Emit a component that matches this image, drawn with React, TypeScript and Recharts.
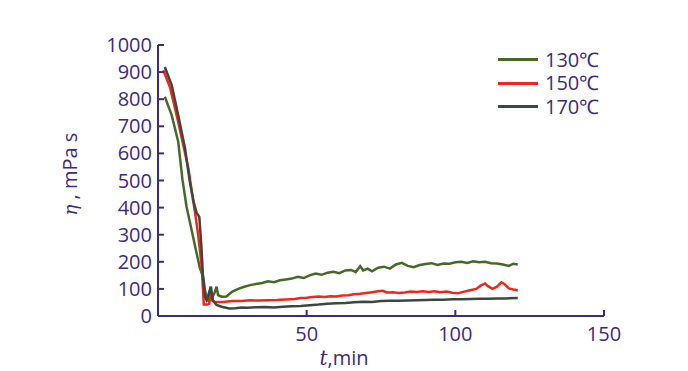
import React from 'react';
import { LineChart, Line, XAxis, YAxis } from 'recharts';

const xTicks = [50, 100, 150];
const yTicks = [0, 100, 200, 300, 400, 500, 600, 700, 800, 900, 1000];

const seriesNames = ['130℃', '150℃', '170℃'];
const seriesColors = ['#466a25', '#f0281c', '#3b4840'];

const t130 = [2.3, 4.6, 6.8, 8.2, 9.6, 11.3, 13.0, 14.1, 15.2, 15.8, 16.3, 16.8, 17.5, 18.3, 19.0, 19.7, 20.2, 21.4, 23, 25, 27, 29, 31, 33, 35, 37, 39, 41, 43, 45, 47, 49, 51, 53, 55, 57, 59, 61, 63, 65, 66.5, 68, 69, 70.5, 72, 74, 76, 78, 80, 82, 84, 86, 88, 90, 92, 94, 96, 98, 100, 102, 104, 106, 108, 110, 112, 114, 116, 118, 119.5, 121];
const v130 = [809, 741, 643, 505, 403, 317, 231, 176, 145, 96, 71, 60, 95, 70, 85, 108, 77, 71, 72, 90, 100, 108, 114, 118, 122, 128, 125, 132, 135, 138, 145, 140, 150, 157, 152, 160, 163, 158, 168, 170, 162, 184, 168, 175, 165, 178, 182, 175, 190, 196, 185, 180, 188, 192, 195, 188, 194, 193, 198, 200, 196, 202, 198, 200, 195, 194, 190, 185, 193, 190];

const t150 = [1.8, 4.0, 6.8, 10.2, 12.4, 13.5, 14.7, 15.4, 16.5, 17.2, 17.8, 18.4, 19, 20, 22, 25, 28, 31, 34, 37, 40, 43, 46, 48, 50, 52, 54, 56, 58, 60, 62, 64, 66, 68, 70, 72, 74, 75.6, 77, 79, 81, 83, 85, 87, 89, 91, 93, 95, 97, 99, 101, 103, 105, 107, 108.5, 110, 111, 112.5, 114, 115.5, 116.5, 118, 119.5, 121];
const v150 = [907, 845, 716, 545, 385, 300, 182, 42, 42, 45, 84, 55, 53, 52, 52, 55, 55, 58, 57, 58, 59, 61, 63, 66, 67, 70, 72, 70, 73, 72, 76, 77, 80, 82, 85, 88, 91, 93, 87, 88, 85, 87, 90, 89, 91, 89, 91, 88, 90, 86, 84, 90, 95, 100, 112, 120, 110, 100, 108, 124, 118, 102, 98, 95];

const t170 = [2.3, 4.6, 6.8, 9.1, 10.7, 12.0, 13.0, 13.9, 14.6, 15.2, 15.8, 16.3, 17.0, 17.8, 18.4, 19, 19.7, 21.4, 24, 26, 28, 30, 33, 36, 39, 42, 45, 48, 51, 54, 57, 60, 63, 66, 69, 72, 75, 78, 81, 84, 87, 90, 93, 96, 99, 102, 105, 108, 111, 114, 117, 121];
const v170 = [919, 852, 741, 618, 495, 420, 380, 366, 256, 133, 71, 59, 80, 108, 59, 50, 41, 34, 28, 29, 31, 30, 32, 33, 31, 34, 36, 37, 40, 42, 45, 47, 48, 51, 53, 52, 55, 56, 56, 57, 58, 59, 60, 60, 62, 62, 63, 64, 64, 65, 65, 66];

const toData = (ts: number[], vs: number[]) => ts.map((t, i) => ({ t, v: vs[i] }));
const d130 = toData(t130, v130);
const d150 = toData(t150, v150);
const d170 = toData(t170, v170);

const axisColor = '#3d2b7d';
const font = '"Open Sans", sans-serif';

const YTick = (props: any) => {
  const { x, y, payload } = props;
  return (
    <g>
      <line x1={x} x2={x + 6} y1={y} y2={y} stroke={axisColor} strokeWidth={2} />
      <text x={x - 6} y={y + 7} textAnchor="end" fontSize={20} fontFamily={font} fill={axisColor}>
        {payload.value}
      </text>
    </g>
  );
};

const XTick = (props: any) => {
  const { x, y, payload } = props;
  return (
    <g>
      <line x1={x} x2={x} y1={y} y2={y - 6} stroke={axisColor} strokeWidth={2} />
      <text x={x} y={y + 25} textAnchor="middle" fontSize={20} fontFamily={font} fill={axisColor}>
        {payload.value}
      </text>
    </g>
  );
};

const LegendBox = () => (
  <div style={{ position: 'absolute', left: 498, top: 48, fontFamily: font, color: axisColor, fontSize: 20 }}>
    {seriesNames.map((n, i) => (
      <div key={n} style={{ display: 'flex', alignItems: 'center', height: 23.5 }}>
        <div style={{ width: 40, height: 3, background: seriesColors[i], marginRight: 7 }} />
        <span style={{ display: 'inline-block', lineHeight: '20px', height: 20, overflow: 'visible' }}>{n}</span>
      </div>
    ))}
  </div>
);

export default function App() {
  return (
    <div style={{ position: 'absolute', left: 0, top: 0, width: 688, height: 371, background: '#fff' }}>
      <LineChart width={688} height={371} margin={{ top: 45, right: 84, bottom: 0, left: 0 }}>
        <XAxis
          dataKey="t"
          type="number"
          domain={[0, 150]}
          ticks={xTicks}
          height={55}
          allowDataOverflow
          axisLine={{ stroke: axisColor, strokeWidth: 2 }}
          tickLine={false}
          tickSize={0}
          tickMargin={0}
          tick={<XTick />}
          label={{
            content: () => (
              <text x={344} y={365} textAnchor="middle" fontSize={20} fontFamily={font} fill={axisColor}>
                <tspan fontStyle="italic" fontFamily="'DejaVu Serif', serif">t</tspan>
                <tspan>,min</tspan>
              </text>
            ),
          }}
        />
        <YAxis
          type="number"
          domain={[0, 1000]}
          ticks={yTicks}
          width={158}
          axisLine={{ stroke: axisColor, strokeWidth: 2 }}
          tickLine={false}
          tickSize={0}
          tickMargin={0}
          tick={<YTick />}
          interval={0}
          label={{
            content: () => (
              <text
                x={77}
                y={174}
                textAnchor="middle"
                fontSize={20}
                fontFamily={font}
                fill={axisColor}
                transform="rotate(-90, 77, 174)"
              >
                <tspan fontStyle="italic" fontFamily="'DejaVu Serif', serif" fontSize={18}>η</tspan>
                <tspan> , mPa s</tspan>
              </text>
            ),
          }}
        />
        <Line data={d130} dataKey="v" type="linear" stroke={seriesColors[0]} strokeWidth={2.5} dot={false} isAnimationActive={false} />
        <Line data={d150} dataKey="v" type="linear" stroke={seriesColors[1]} strokeWidth={2.5} dot={false} isAnimationActive={false} />
        <Line data={d170} dataKey="v" type="linear" stroke={seriesColors[2]} strokeWidth={2.5} dot={false} isAnimationActive={false} />
      </LineChart>
      <LegendBox />
    </div>
  );
}
